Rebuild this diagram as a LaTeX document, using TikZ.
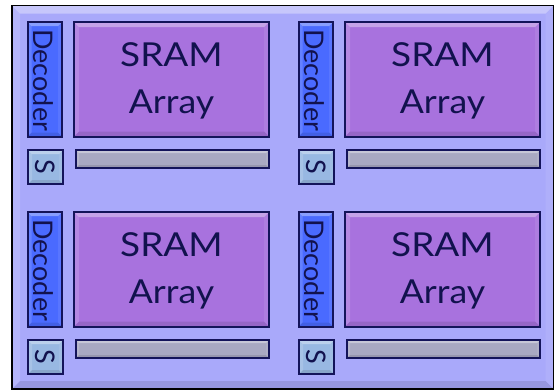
\documentclass[tikz,border=0pt]{standalone}
\usepackage{fontspec}
\setmainfont{Lato}
\usetikzlibrary{calc}

\definecolor{chipfill}{HTML}{A9A9FA}
\definecolor{decfill}{HTML}{4A6AFF}
\definecolor{arrfill}{HTML}{A872DE}
\definecolor{sensefill}{HTML}{98B8E2}
\definecolor{barfill}{HTML}{A9A9C2}
\definecolor{edge}{HTML}{14145A}
\definecolor{ink}{HTML}{12124E}

% raised-edge shading on the four sides of a rectangular node
\newcommand\bevelsides[2]{%
  \fill[white,opacity=.35] (#1.north west) -- (#1.north east)
    -- ([xshift=-#2,yshift=-#2]#1.north east) -- ([xshift=#2,yshift=-#2]#1.north west) -- cycle;
  \fill[white,opacity=.15] (#1.north west) -- (#1.south west)
    -- ([xshift=#2,yshift=#2]#1.south west) -- ([xshift=#2,yshift=-#2]#1.north west) -- cycle;
  \fill[black,opacity=.10] (#1.south west) -- (#1.south east)
    -- ([xshift=-#2,yshift=#2]#1.south east) -- ([xshift=#2,yshift=#2]#1.south west) -- cycle;
  \fill[white,opacity=.08] (#1.north east) -- (#1.south east)
    -- ([xshift=-#2,yshift=#2]#1.south east) -- ([xshift=-#2,yshift=-#2]#1.north east) -- cycle;
}

\tikzset{
  block/.style={rectangle, inner sep=0pt, outer sep=0pt, anchor=north west},
  outline/.style={draw=edge, line width=2pt},
  arraytext/.style={text=ink, align=center, font=\fontsize{33}{47}\selectfont},
  sidetext/.style={text=ink, rotate=-90, font=\fontsize{27}{27}\selectfont},
}

\begin{document}
\begin{tikzpicture}[x=1pt, y=-1pt]
\useasboundingbox (0,0) rectangle (557,391);

% chip outline
\node[block, fill=chipfill, minimum width=541.5pt, minimum height=383.5pt] (chip) at (12,5.5) {};
\bevelsides{chip}{8pt}
\draw[black, line width=1.5pt] (chip.north west) rectangle (chip.south east);

% four identical array tiles
\foreach \dx/\dy/\q in {0/0/a, 271/0/b, 0/190/c, 271/190/d} {
  % row decoder
  \node[block, fill=decfill, minimum width=34.5pt, minimum height=114.5pt] (dec\q) at (27.5+\dx,22+\dy) {};
  \bevelsides{dec\q}{4pt}
  \draw[outline] (dec\q.north west) rectangle (dec\q.south east);
  \node[sidetext] at ([xshift=-1pt,yshift=-1pt]dec\q.center) {Decoder};

  % memory array
  \node[block, fill=arrfill, minimum width=195pt, minimum height=114.5pt] (arr\q) at (74+\dx,22+\dy) {};
  \bevelsides{arr\q}{5pt}
  \draw[outline] (arr\q.north west) rectangle (arr\q.south east);
  \node[arraytext] at ([yshift=-2pt]arr\q.center) {\scalebox{1.12}[1]{SRAM}\\\scalebox{1.08}[1]{Array}};

  % sense amplifier
  \node[block, fill=sensefill, minimum width=35pt, minimum height=34pt] (sa\q) at (28+\dx,150+\dy) {};
  \bevelsides{sa\q}{4pt}
  \draw[outline] (sa\q.north west) rectangle (sa\q.south east);
  \node[sidetext] at (sa\q.center) {S};

  % column bus
  \node[block, fill=barfill, minimum width=193pt, minimum height=18pt] (bus\q) at (76+\dx,150+\dy) {};
  \bevelsides{bus\q}{3pt}
  \draw[outline] (bus\q.north west) rectangle (bus\q.south east);
}
\end{tikzpicture}
\end{document}
